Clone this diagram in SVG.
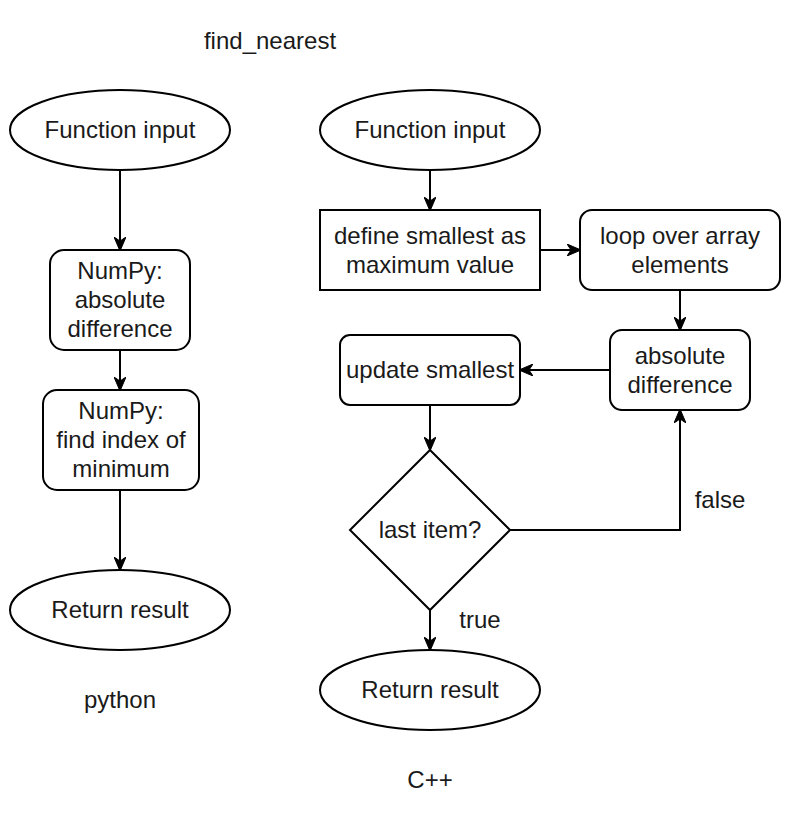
<svg xmlns="http://www.w3.org/2000/svg" width="792" height="820" viewBox="0 0 792 820">
<defs>
<marker id="arr" viewBox="0 0 14 12" refX="13" refY="6" markerWidth="14" markerHeight="12" markerUnits="userSpaceOnUse" orient="auto">
<path d="M0,0 L14,6 L0,12 L4,6 Z" fill="#000" stroke="#000" stroke-width="1"/>
</marker>
</defs>
<style>
.s{fill:#fff;stroke:#000;stroke-width:2}
.t{font-family:"Liberation Sans",Arial,sans-serif;font-size:24px;fill:#1a1a1a;text-anchor:middle}
.e{fill:none;stroke:#000;stroke-width:2;marker-end:url(#arr)}
</style>
<rect width="792" height="820" fill="#fff"/>
<g id="connectors">
<path class="e" d="M120,170 L120,250"/>
<path class="e" d="M120,350 L120,390"/>
<path class="e" d="M120,490 L120,570"/>
<path class="e" d="M430,170 L430,210"/>
<path class="e" d="M540,250 L580,250"/>
<path class="e" d="M680,290 L680,330"/>
<path class="e" d="M610,370 L520,370"/>
<path class="e" d="M430,405 L430,450"/>
<path class="e" d="M510,530 L680,530 L680,410"/>
<path class="e" d="M430,610 L430,650"/>
</g>
<g id="title"><text class="t" x="270" y="49">find_nearest</text></g>
<g id="py_start"><ellipse class="s" cx="120" cy="130" rx="110" ry="40"/><text class="t" x="120" y="138">Function input</text></g>
<g id="py_absdiff"><rect class="s" x="50" y="250" width="140" height="100" rx="14"/><text class="t" x="120" y="279">NumPy:</text><text class="t" x="120" y="308">absolute</text><text class="t" x="120" y="337">difference</text></g>
<g id="py_argmin"><rect class="s" x="43" y="390" width="156" height="100" rx="14"/><text class="t" x="121" y="419">NumPy:</text><text class="t" x="121" y="448">find index of</text><text class="t" x="121" y="477">minimum</text></g>
<g id="py_end"><ellipse class="s" cx="120" cy="610" rx="110" ry="40"/><text class="t" x="120" y="618">Return result</text></g>
<g id="py_label"><text class="t" x="120" y="708">python</text></g>
<g id="cpp_start"><ellipse class="s" cx="430" cy="130" rx="110" ry="40"/><text class="t" x="430" y="138">Function input</text></g>
<g id="cpp_define"><rect class="s" x="320" y="210" width="220" height="80"/><text class="t" x="430" y="244">define smallest as</text><text class="t" x="430" y="273">maximum value</text></g>
<g id="cpp_loop"><rect class="s" x="580" y="210" width="200" height="80" rx="12"/><text class="t" x="680" y="244">loop over array</text><text class="t" x="680" y="273">elements</text></g>
<g id="cpp_absdiff"><rect class="s" x="610" y="330" width="140" height="80" rx="12"/><text class="t" x="680" y="364">absolute</text><text class="t" x="680" y="393">difference</text></g>
<g id="cpp_update"><rect class="s" x="340" y="335" width="180" height="70" rx="10"/><text class="t" x="430" y="378">update smallest</text></g>
<g id="cpp_last"><path class="s" d="M430,450 L510,530 L430,610 L350,530 Z"/><text class="t" x="430" y="538">last item?</text></g>
<g id="cpp_end"><ellipse class="s" cx="430" cy="690" rx="110" ry="40"/><text class="t" x="430" y="698">Return result</text></g>
<g id="labels"><text class="t" x="720" y="508">false</text><text class="t" x="480" y="628">true</text></g>
<g id="cpp_label"><text class="t" x="430" y="788">C++</text></g>
</svg>
